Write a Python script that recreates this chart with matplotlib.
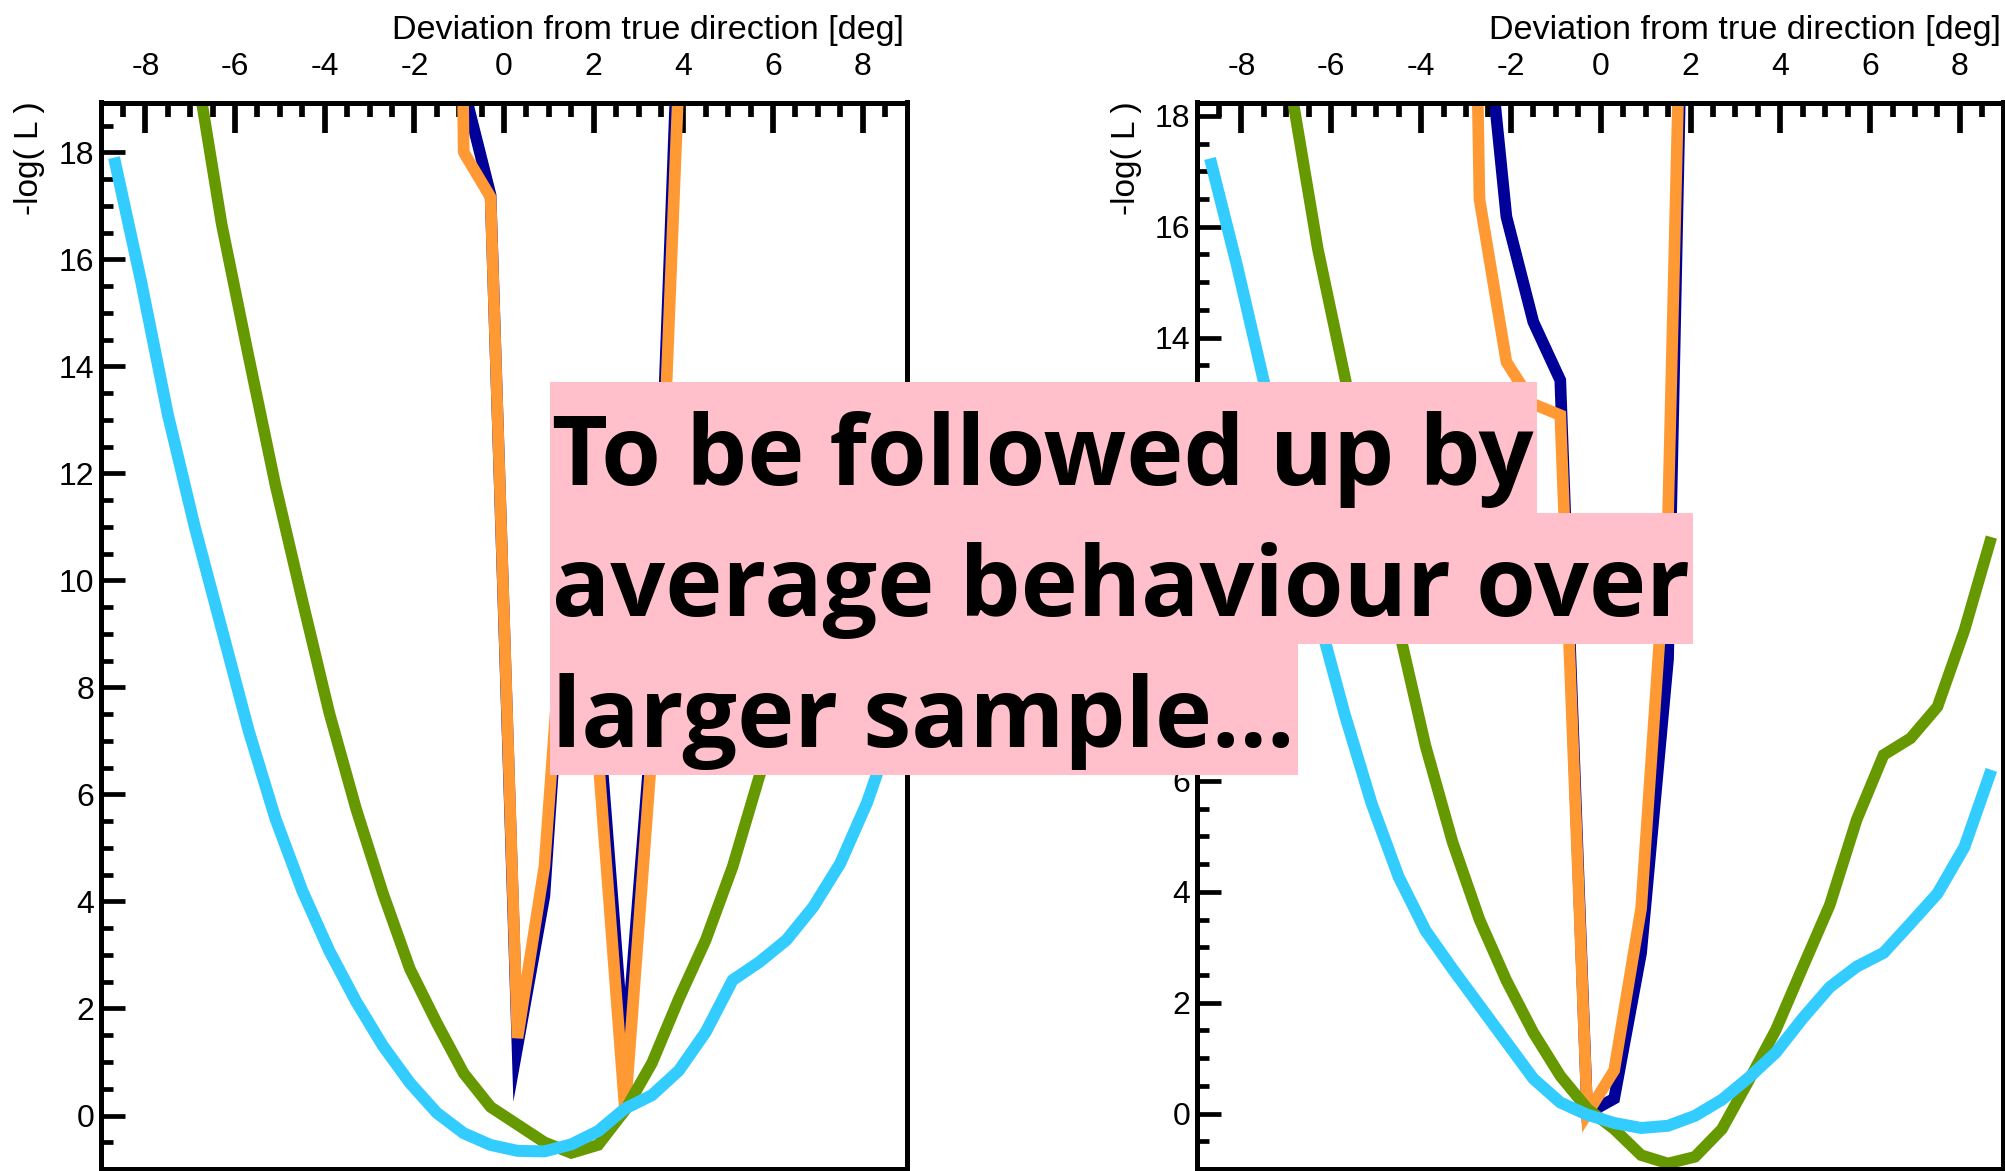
import numpy as np
import matplotlib
matplotlib.use("Agg")
import matplotlib.pyplot as plt
from matplotlib.patches import Rectangle
from matplotlib.ticker import MultipleLocator

W, H = 2006, 1171

plt.rcParams['font.family'] = ['Liberation Sans', 'DejaVu Sans']
plt.rcParams['axes.unicode_minus'] = False

# scan points, deviation from true direction [deg]
offset = [-8.7, -8.1, -7.5, -6.9, -6.3, -5.7, -5.1, -4.5, -3.9, -3.3,
          -2.7, -2.1, -1.5, -0.9, -0.3, 0.3, 0.9, 1.5, 2.1, 2.7,
          3.3, 3.9, 4.5, 5.1, 5.7, 6.3, 6.9, 7.5, 8.1, 8.7]
nan = np.nan

# left event, -log(L) per hypothesis
navy_a = [nan, nan, nan, nan, nan, nan, nan, nan, nan, nan,
          nan, nan, 40.0, 19.2, 17.2, 1.3, 4.1, 11.5, 7.5, 1.0,
          7.3, 20.7, 45.0, nan, nan, nan, nan, nan, nan, nan]
orange_a = [nan, nan, nan, nan, nan, nan, nan, nan, nan, nan,
            nan, nan, 60.0, 18.0, 17.16, 1.45, 4.65, 11.5, 6.7, 0.07,
            6.85, 19.45, 45.0, nan, nan, nan, nan, nan, nan, nan]
green_a = [nan, nan, nan, 19.75, 16.66, 14.19, 11.78, 9.63, 7.53, 5.73,
           4.15, 2.74, 1.73, 0.79, 0.16, -0.17, -0.50, -0.70, -0.55, 0.10,
           0.98, 2.18, 3.28, 4.65, 6.35, 7.6, 9.0, 10.3, 11.5, 12.8]
cyan_a = [17.9, 15.6, 13.1, 11.0, 9.1, 7.2, 5.55, 4.2, 3.08, 2.13,
          1.30, 0.61, 0.05, -0.33, -0.55, -0.66, -0.67, -0.54, -0.29, 0.13,
          0.38, 0.84, 1.56, 2.53, 2.87, 3.28, 3.90, 4.71, 5.85, 7.3]

# right event
navy_b = [nan, nan, nan, nan, nan, nan, nan, nan, nan, nan,
          21.0, 16.18, 14.28, 13.23, 0.0, 0.27, 2.9, 8.2, 31.4, nan,
          nan, nan, nan, nan, nan, nan, nan, nan, nan, nan]
orange_b = [nan, nan, nan, nan, nan, nan, nan, nan, nan, 45.0,
            16.5, 13.56, 12.8, 12.6, 0.0, 0.78, 3.7, 10.8, 31.0, nan,
            nan, nan, nan, nan, nan, nan, nan, nan, nan, nan]
green_b = [nan, nan, nan, 18.5, 15.6, 13.3, 11.0, 8.75, 6.63, 4.9,
           3.5, 2.4, 1.46, 0.68, 0.09, -0.28, -0.75, -0.90, -0.78, -0.28,
           0.6, 1.51, 2.64, 3.76, 5.3, 6.47, 6.77, 7.34, 8.72, 10.4]
cyan_b = [17.23, 15.3, 13.2, 11.0, 9.0, 7.2, 5.59, 4.27, 3.30, 2.61,
          1.95, 1.29, 0.63, 0.20, -0.02, -0.17, -0.26, -0.22, -0.04, 0.25,
          0.65, 1.1, 1.72, 2.28, 2.65, 2.9, 3.43, 3.97, 4.81, 6.2]

note_lines = ["To be followed up by", "average behaviour over", "larger sample..."]

NAVY, ORANGE, GREEN, CYAN = "#000099", "#ff9933", "#669900", "#33ccff"


def fx(x):
    return x / W


def fy(y):
    return 1 - y / H


fig = plt.figure(figsize=(W / 100, H / 100), dpi=100)
ax_a = fig.add_axes([fx(101.5), fy(1168.5), (907 - 101.5) / W, (1168.5 - 102.5) / H])
ax_b = fig.add_axes([fx(1197), fy(1169), (2003.5 - 1197) / W, (1169 - 102.5) / H])

panels = [
    (ax_a, navy_a, orange_a, green_a, cyan_a, 'bevel', (-8.98, 8.99), (-0.99, 18.93), 904),
    (ax_b, navy_b, orange_b, green_b, cyan_b, 'miter', (-8.99, 8.97), (-1.0, 18.24), 2001),
]

for ax, nv, org, grn, cyn, ojoin, xlim, ylim, title_x in panels:
    kw = dict(solid_capstyle='butt')
    ax.plot(offset, nv, color=NAVY, lw=8.4, solid_joinstyle='miter', **kw)
    ax.plot(offset, org, color=ORANGE, lw=8.4, solid_joinstyle=ojoin, **kw)
    ax.plot(offset, grn, color=GREEN, lw=8.3, solid_joinstyle='miter', **kw)
    ax.plot(offset, cyn, color=CYAN, lw=8.6, solid_joinstyle='miter', **kw)

    ax.set_xlim(*xlim)
    ax.set_ylim(*ylim)
    ax.xaxis.set_major_locator(MultipleLocator(2))
    ax.xaxis.set_minor_locator(MultipleLocator(0.5))
    ax.yaxis.set_major_locator(MultipleLocator(2))
    ax.yaxis.set_minor_locator(MultipleLocator(0.5))
    ax.tick_params(axis='x', which='both', direction='in', top=True, bottom=False,
                   labeltop=True, labelbottom=False, width=4.1, pad=15, labelsize=23)
    ax.tick_params(axis='x', which='major', length=21.6)
    ax.tick_params(axis='x', which='minor', length=10)
    ax.tick_params(axis='y', which='both', direction='in', left=True, right=False,
                   width=3.4, pad=5, labelsize=23)
    ax.tick_params(axis='y', which='major', length=17)
    ax.tick_params(axis='y', which='minor', length=8.5)
    for sp in ax.spines.values():
        sp.set_linewidth(3.6)

    fig.text(fx(title_x), fy(39), "Deviation from true direction [deg]",
             ha='right', va='baseline', fontsize=24.6)

fig.text(fx(30), fy(101), "-log( L )", rotation=90, ha='center', va='top', fontsize=24)
fig.text(fx(1126), fy(101), "-log( L )", rotation=90, ha='center', va='top', fontsize=24)

# pink highlighted note, one box per line
fig.canvas.draw()
renderer = fig.canvas.get_renderer()
box_left, line_h, top0 = 550, 131, 381.7
for i, line in enumerate(note_lines):
    top = top0 + i * line_h
    t = fig.text(fx(552), fy(top + 103.5), line, ha='left', va='baseline',
                 fontsize=69.6, family='Open Sans', fontweight='bold',
                 color='black', zorder=21)
    bb = t.get_window_extent(renderer)
    fig.add_artist(Rectangle((fx(box_left), fy(top + line_h)),
                             (bb.x1 + 3 - box_left) / W, line_h / H,
                             transform=fig.transFigure, facecolor='pink',
                             edgecolor='none', zorder=20))

fig.savefig("out.png", dpi=100)
